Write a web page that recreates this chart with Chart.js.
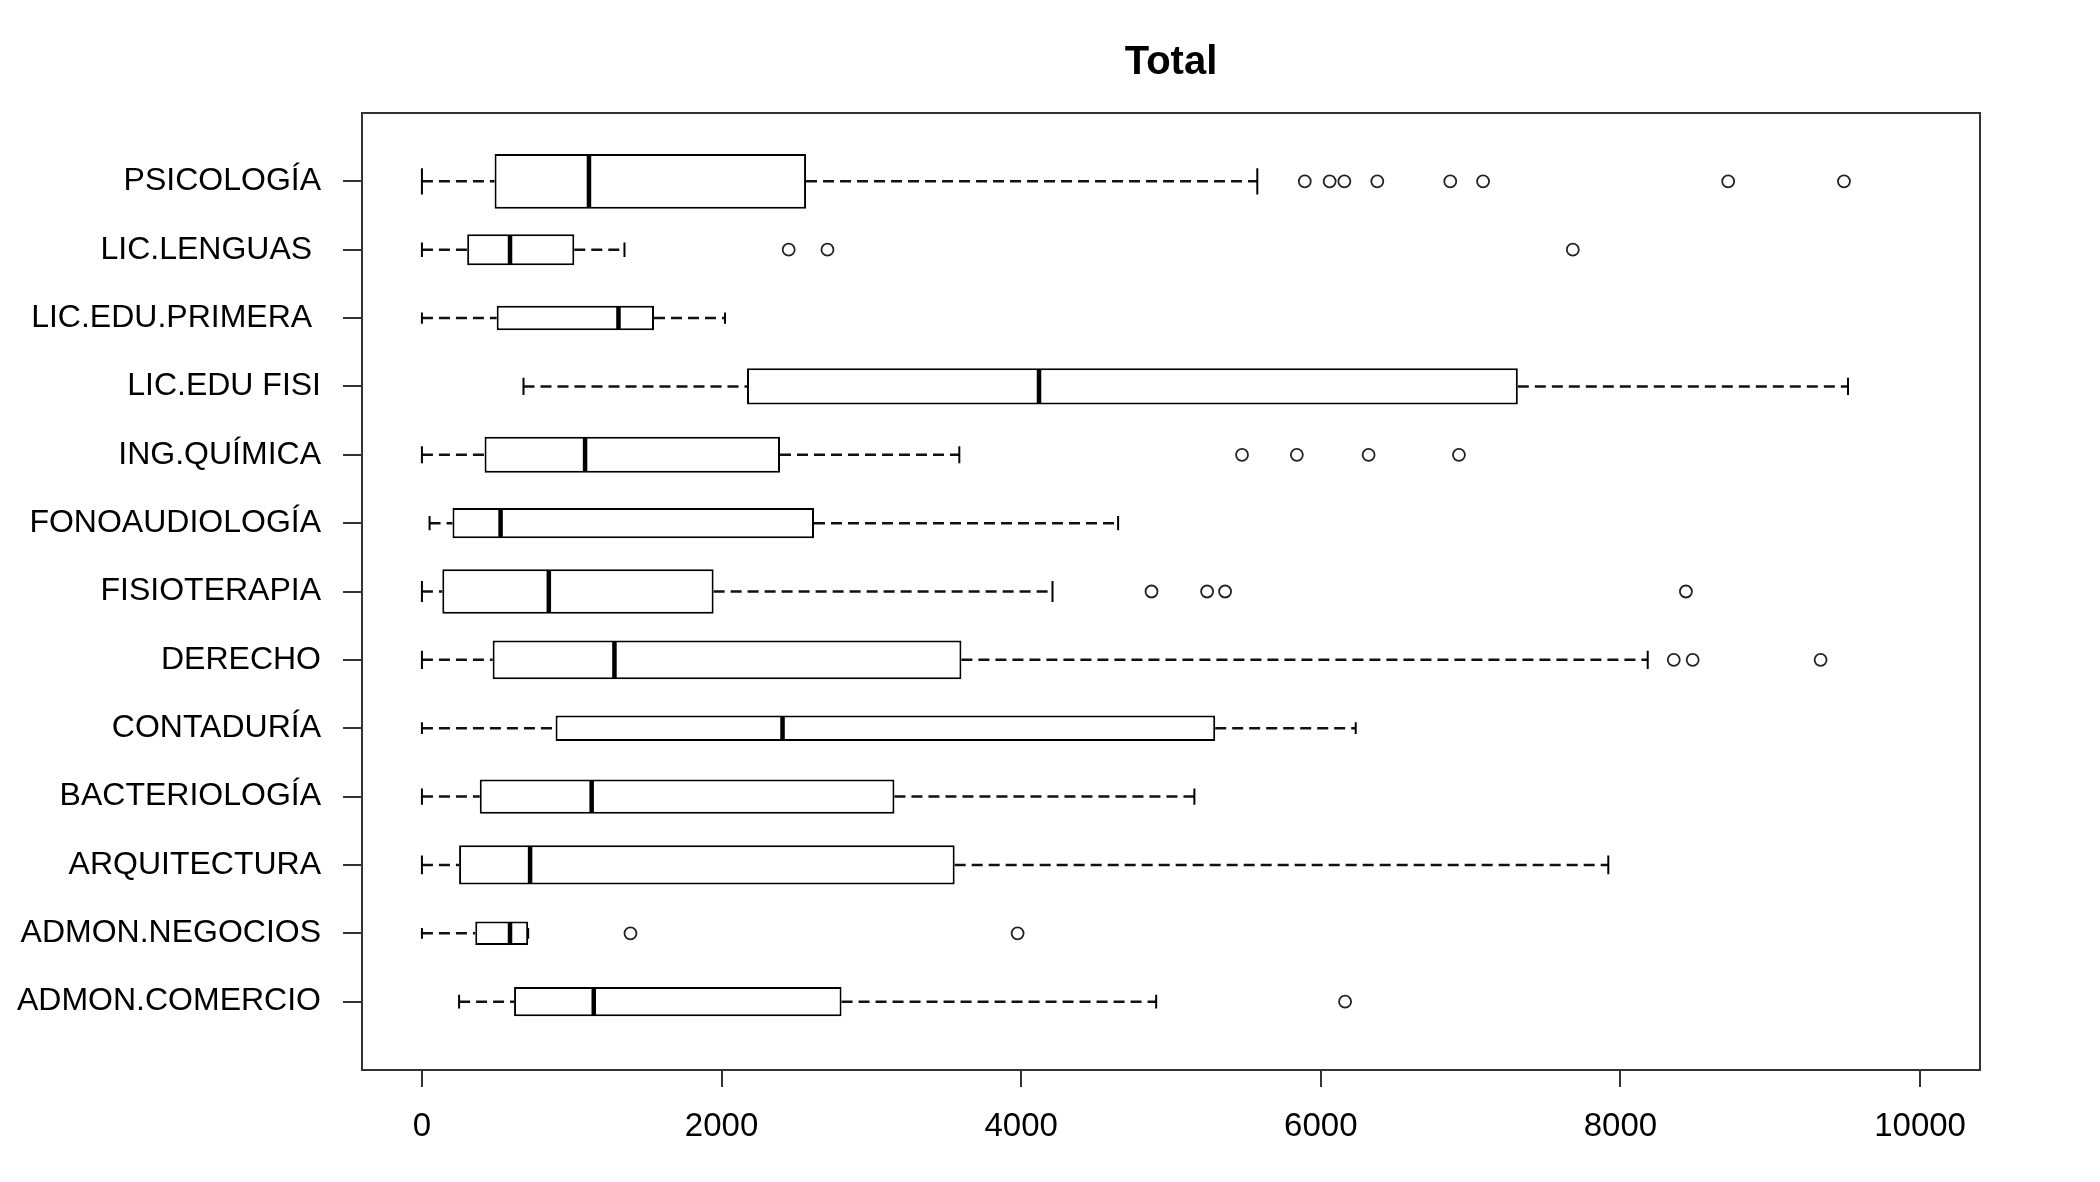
<!DOCTYPE html>
<html>
<head>
<meta charset="utf-8">
<script src="https://cdn.jsdelivr.net/npm/chart.js@4.4.1/dist/chart.umd.min.js"></script>
<style>
  html, body { margin: 0; padding: 0; background: #fff; }
  #wrap { width: 2100px; height: 1182px; }
</style>
</head>
<body>
<div id="wrap"><canvas id="c" width="2100" height="1182"></canvas></div>
<script>
// ---- data (top to bottom as displayed) ----
const categories = ['PSICOLOGÍA', 'LIC.LENGUAS ', 'LIC.EDU.PRIMERA ', 'LIC.EDU FISI', 'ING.QUÍMICA',
  'FONOAUDIOLOGÍA', 'FISIOTERAPIA', 'DERECHO', 'CONTADURÍA', 'BACTERIOLOGÍA',
  'ARQUITECTURA', 'ADMON.NEGOCIOS', 'ADMON.COMERCIO'];
const whiskerLow  = [0,    0,    0,    678,  0,    51,   0,    0,    0,    0,    0,    0,   248];
const quartile1   = [485,  302,  499,  2170, 418,  204,  136,  472,  892,  386,  248,  356, 615];
const medians     = [1115, 588,  1312, 4119, 1089, 525,  847,  1285, 2407, 1133, 722,  588, 1147];
const quartile3   = [2564, 1017, 1549, 7315, 2390, 2617, 1947, 3601, 5295, 3154, 3556, 709, 2801];
const whiskerHigh = [5576, 1352, 2023, 9519, 3587, 4647, 4209, 8182, 6233, 5156, 7919, 709, 4901];
const outliers = [
  [5893, 6059, 6157, 6377, 6864, 7083, 8719, 9492],
  [2448, 2707, 7682],
  [],
  [],
  [5474, 5840, 6319, 6922],
  [],
  [4870, 5241, 5361, 8437],
  [8356, 8482, 9336],
  [],
  [],
  [],
  [1392, 3976],
  [6162]
];
// estimated group sizes (box thickness ~ sqrt(n), varwidth)
const groupSizes = [120, 36, 22, 51, 50, 35, 78, 58, 24, 45, 60, 20, 32];
const xTicks = [0, 2000, 4000, 6000, 8000, 10000];
const titleText = 'Total';

// ---- derived ----
const N = categories.length;
const pos = i => N - i;                 // y position of category i
const maxN = Math.max(...groupSizes);
const BOXWEX = 0.77;
const halfW = i => 0.5 * BOXWEX * Math.sqrt(groupSizes[i] / maxN);
const FONT = '"Liberation Sans", Arial, Helvetica, sans-serif';
const INK = '#000';
const FRAME = '#333';

const unitPx = chart => Math.abs(chart.scales.y.getPixelForValue(1) - chart.scales.y.getPixelForValue(0));

const boxSets = categories.map((c, i) => ({
  type: 'bar',
  indexAxis: 'y',
  grouped: false,
  order: 3,
  data: [{ y: pos(i), x: [quartile1[i], quartile3[i]] }],
  backgroundColor: '#fff',
  borderColor: INK,
  borderWidth: 2,
  borderSkipped: false,
  inflateAmount: 0,
  barThickness: ctx => 2 * halfW(i) * unitPx(ctx.chart) + 2
}));

const whiskerData = [];
const stapleData = [];
const medianData = [];
const outlierData = [];
categories.forEach((c, i) => {
  const y = pos(i);
  whiskerData.push({ x: whiskerLow[i], y }, { x: quartile1[i], y }, { x: 0, y: null });
  whiskerData.push({ x: quartile3[i], y }, { x: whiskerHigh[i], y }, { x: 0, y: null });
  const s = halfW(i) * 0.5;
  stapleData.push({ x: whiskerLow[i], y: y - s }, { x: whiskerLow[i], y: y + s }, { x: 0, y: null });
  stapleData.push({ x: whiskerHigh[i], y: y - s }, { x: whiskerHigh[i], y: y + s }, { x: 0, y: null });
  const h = halfW(i);
  medianData.push({ x: medians[i], y: y - h }, { x: medians[i], y: y + h }, { x: 0, y: null });
  outliers[i].forEach(v => outlierData.push({ x: v, y }));
});

const lineBase = { type: 'line', showLine: true, spanGaps: false, pointRadius: 0, pointHoverRadius: 0, pointHitRadius: 0, fill: false, tension: 0 };

const datasets = [
  Object.assign({}, lineBase, { label: 'whiskers', data: whiskerData, borderColor: '#111', borderWidth: 2.5, borderDash: [11, 6], borderCapStyle: 'butt', order: 4 }),
  ...boxSets,
  Object.assign({}, lineBase, { label: 'staples', data: stapleData, borderColor: INK, borderWidth: 2, order: 2 }),
  Object.assign({}, lineBase, { label: 'medians', data: medianData, borderColor: INK, borderWidth: 4.5, borderCapStyle: 'butt', order: 1 }),
  { type: 'scatter', label: 'outliers', data: outlierData, pointStyle: 'circle', pointRadius: 6, pointHoverRadius: 6,
    borderColor: '#222', borderWidth: 1.8, backgroundColor: 'rgba(0,0,0,0)', order: 0 }
];

const framePlugin = {
  id: 'frame',
  afterDraw(chart) {
    const { ctx, chartArea: a } = chart;
    ctx.save();
    ctx.strokeStyle = FRAME;
    ctx.lineWidth = 2;
    ctx.strokeRect(a.left, a.top, a.right - a.left, a.bottom - a.top);
    ctx.restore();
  }
};

new Chart(document.getElementById('c'), {
  type: 'scatter',
  data: { datasets },
  plugins: [framePlugin],
  options: {
    responsive: false,
    animation: false,
    devicePixelRatio: 1,
    layout: { padding: { left: 0, right: 120, top: 0, bottom: 0 } },
    plugins: {
      legend: { display: false },
      tooltip: { enabled: false },
      title: {
        display: true, text: titleText, fullSize: false, color: '#000',
        font: { family: FONT, size: 40, weight: 'bold', lineHeight: 1.2 },
        padding: { top: 39, bottom: 26 }
      }
    },
    scales: {
      x: {
        type: 'linear', position: 'bottom', min: -400, max: 10400, offset: false, beginAtZero: false,
        afterBuildTicks: s => { s.ticks = xTicks.map(v => ({ value: v })); },
        afterFit: s => { s.height = 112; },
        grid: { display: true, offset: false, drawOnChartArea: false, drawTicks: true, tickLength: 17, color: FRAME, lineWidth: 2 },
        border: { display: false },
        ticks: { color: INK, font: { family: FONT, size: 33 }, padding: 20, maxRotation: 0, autoSkip: false,
          callback: v => String(v) }
      },
      y: {
        type: 'linear', position: 'left', min: 0, max: 14, offset: false,
        afterBuildTicks: s => { s.ticks = categories.map((c, i) => ({ value: pos(i) })); },
        afterFit: s => { s.width = 362; },
        grid: { display: true, offset: false, drawOnChartArea: false, drawTicks: true, tickLength: 19, color: FRAME, lineWidth: 2 },
        border: { display: false },
        ticks: { color: INK, font: { family: FONT, size: 32 }, padding: 22, autoSkip: false, crossAlign: 'near',
          callback: v => categories[N - v] }
      }
    }
  }
});
</script>
</body>
</html>
